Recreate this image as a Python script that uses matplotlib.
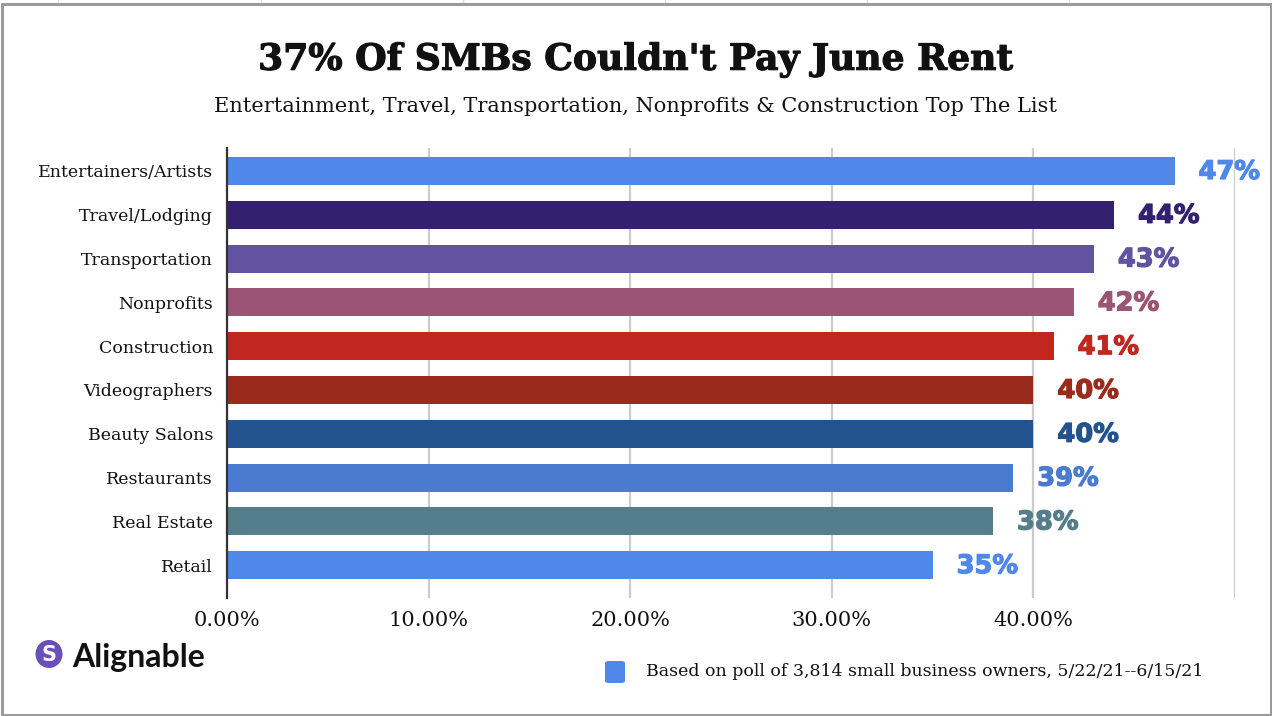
import matplotlib
matplotlib.use("Agg")
import matplotlib.pyplot as plt
from matplotlib.patches import Ellipse, FancyBboxPatch
from matplotlib.lines import Line2D
import matplotlib.patheffects as pe

title = "37% Of SMBs Couldn't Pay June Rent"
subtitle = "Entertainment, Travel, Transportation, Nonprofits & Construction Top The List"
categories = ["Entertainers/Artists", "Travel/Lodging", "Transportation", "Nonprofits",
              "Construction", "Videographers", "Beauty Salons", "Restaurants",
              "Real Estate", "Retail"]
values = [0.47, 0.44, 0.43, 0.42, 0.41, 0.40, 0.40, 0.39, 0.38, 0.35]
value_labels = ["47%", "44%", "43%", "42%", "41%", "40%", "40%", "39%", "38%", "35%"]
colors = ["#4f88e8", "#33206e", "#6253a0", "#9b5474", "#c1271e",
          "#9a2a1b", "#22538f", "#4a7bd1", "#547e8a", "#4f88e8"]
xticks = [0.0, 0.1, 0.2, 0.3, 0.4, 0.5]
xtick_labels = ["0.00%", "10.00%", "20.00%", "30.00%", "40.00%", ""]
legend_text = "Based on poll of 3,814 small business owners, 5/22/21--6/15/21"

W, H = 1272, 716
fig = plt.figure(figsize=(W / 100, H / 100), dpi=100)
fig.patch.set_facecolor("white")

serif = "DejaVu Serif"

# axes placement in pixels
ax_l, ax_r, ax_t, ax_b = 227, 1235, 148, 598
ax = fig.add_axes([ax_l / W, (H - ax_b) / H, (ax_r - ax_l) / W, (ax_b - ax_t) / H])
ax.set_xlim(0, 0.5)
ypos = list(range(len(categories)))
ax.set_ylim(9.75, -0.525)

ax.barh(ypos, values, height=0.64, color=colors, zorder=3)
for y, v, lab, c in zip(ypos, values, value_labels, colors):
    ax.annotate(lab, (v, y), xytext=(24, -1), textcoords="offset pixels",
                ha="left", va="center", fontsize=18.5, fontweight="bold",
                family="DejaVu Sans", color=c, zorder=4,
                path_effects=[pe.withStroke(linewidth=0.9, foreground=c)])

ax.set_yticks(ypos)
ax.set_yticklabels(categories, family=serif, fontsize=12.5, color="#111111")
ax.set_xticks(xticks)
ax.set_xticklabels(xtick_labels, family=serif, fontsize=15, color="#111111")
ax.tick_params(axis="both", length=0)
ax.tick_params(axis="y", pad=10)
ax.tick_params(axis="x", pad=9)
ax.grid(axis="x", color="#cccccc", linewidth=1.6, zorder=0)
for s in ["top", "right", "bottom"]:
    ax.spines[s].set_visible(False)
ax.spines["left"].set_color("#333333")
ax.spines["left"].set_linewidth(1.6)
ax.spines["left"].set_zorder(5)
ax.set_facecolor("none")

# titles
fig.text(636 / W, 1 - 60 / H, title, ha="center", va="center", family=serif,
         fontsize=26, fontweight="bold", color="#111111",
         path_effects=[pe.withStroke(linewidth=0.8, foreground="#111111")])
fig.text(636 / W, 1 - 106 / H, subtitle, ha="center", va="center", family=serif,
         fontsize=15, color="#111111")

# legend
fig.patches.append(FancyBboxPatch((605 / W, 1 - 683 / H), 20 / W, 22 / H,
                                  boxstyle="round,pad=0,rounding_size=0.003",
                                  transform=fig.transFigure, facecolor="#4f88e8",
                                  edgecolor="none"))
fig.text(646 / W, 1 - 671 / H, legend_text, ha="left", va="center", family=serif,
         fontsize=12.5, color="#111111")

# logo
fig.patches.append(Ellipse((49 / W, 1 - 654 / H), 27 / W, 28 / H, transform=fig.transFigure,
                           facecolor="#6a4fb8", edgecolor="none"))
fig.text(49 / W, 1 - 655 / H, "S", ha="center", va="center", family="DejaVu Sans",
         fontweight="bold", fontsize=15, color="white")
fig.text(72 / W, 1 - 657 / H, "Alignable", ha="left", va="center", family="Lato",
         fontweight="bold", fontsize=23, color="#111111")

# frame border and spreadsheet ticks
for x in [58, 261, 463, 665, 867, 1069]:
    fig.add_artist(Line2D([x / W, x / W], [1, 1 - 3 / H], transform=fig.transFigure,
                          color="#dddddd", linewidth=1))
fig.add_artist(Line2D([1.5 / W, 1.5 / W, 1270.5 / W, 1270.5 / W, 1.5 / W],
                      [1 - 714.5 / H, 1 - 3.5 / H, 1 - 3.5 / H, 1 - 714.5 / H, 1 - 714.5 / H],
                      transform=fig.transFigure, color="#9a9a9a", linewidth=2.2))

fig.savefig("out.png", dpi=100, facecolor="white")
